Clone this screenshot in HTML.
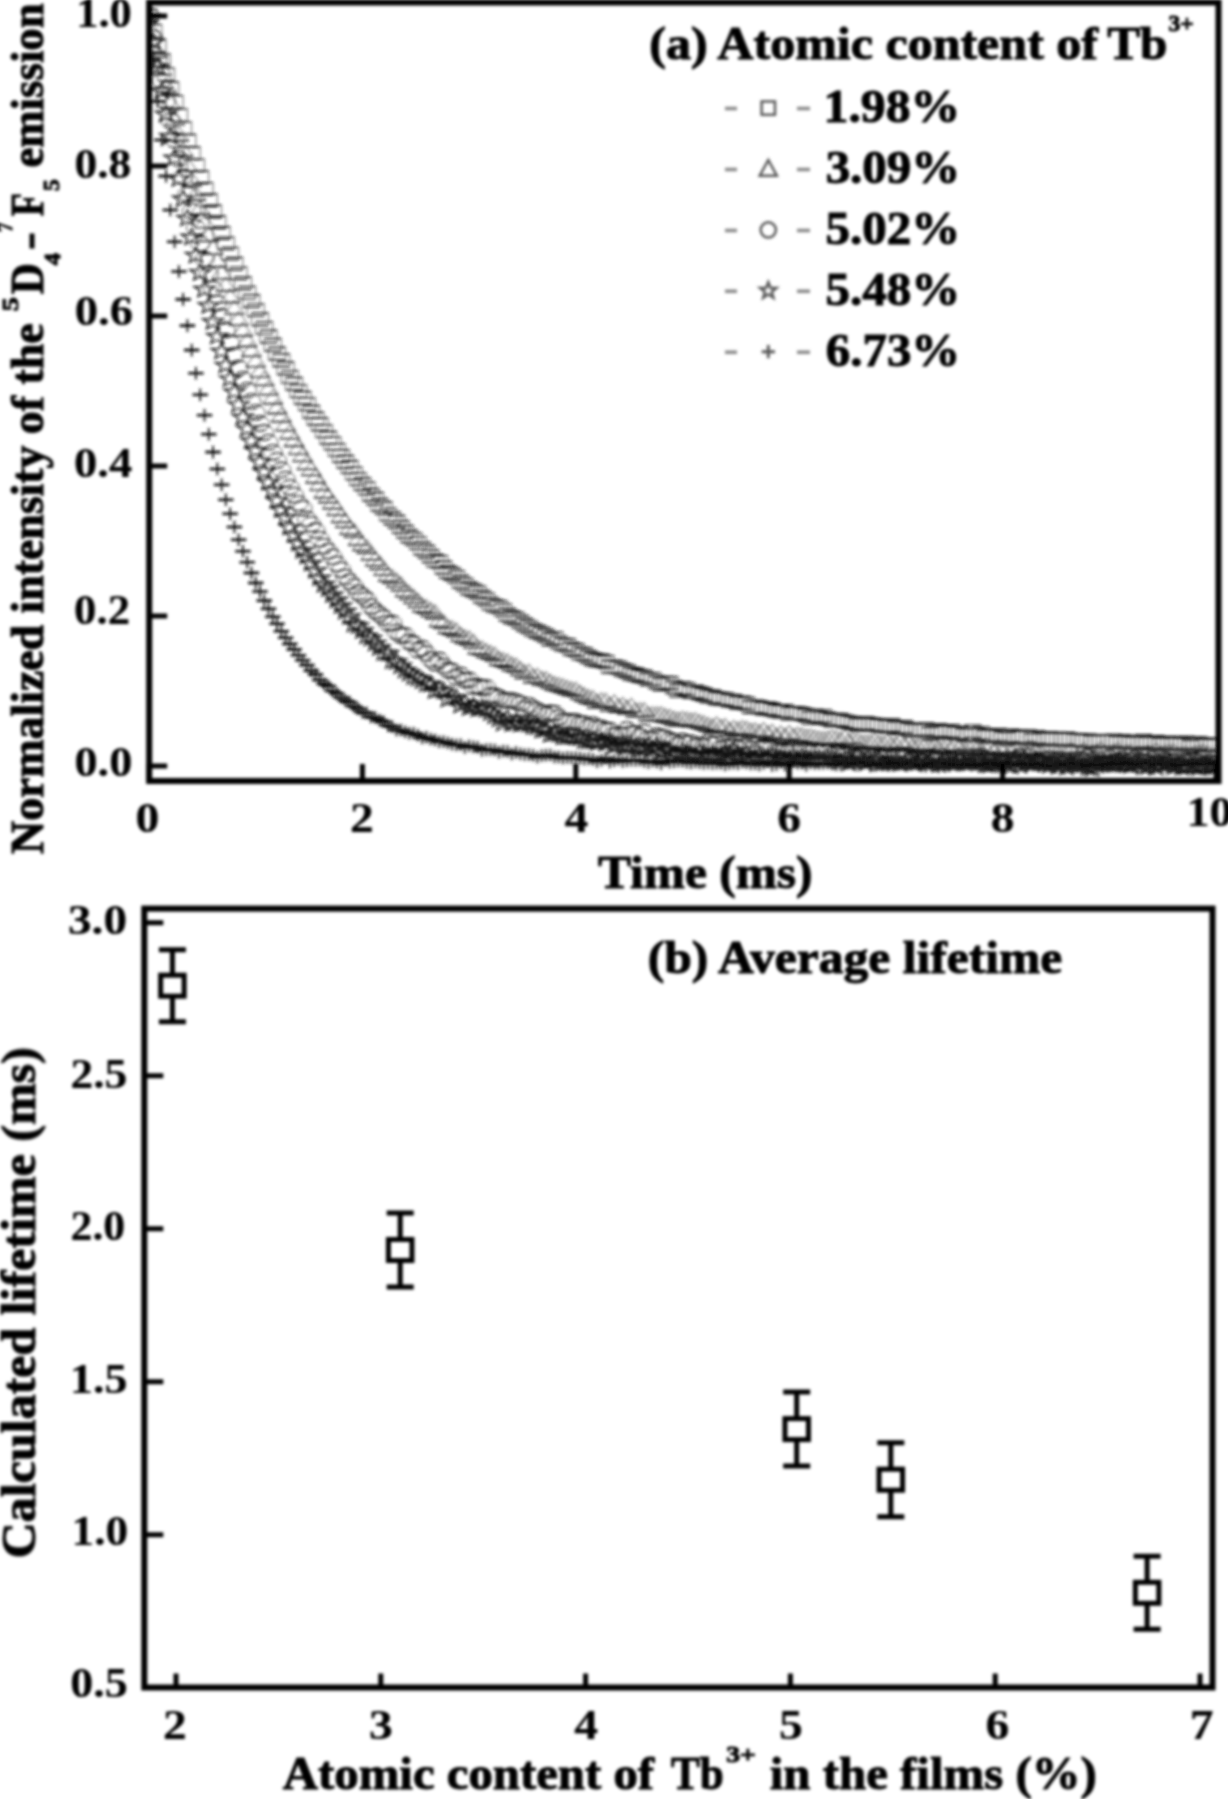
<!DOCTYPE html><html><head><meta charset="utf-8"><style>html,body{margin:0;padding:0;background:#fff;width:1228px;height:1800px;overflow:hidden;}svg{display:block;}</style></head><body><svg width="1228" height="1800" viewBox="0 0 1228 1800">
<defs>
<g id="m_sq"><rect x="-7" y="-7" width="14" height="14"/></g>
<g id="d_sq"><path d="M-8.5,-6.25V6.25 M8.5,-6.25V6.25" stroke="#333" stroke-width="0.8"/><path d="M-8.5,-6.25H8.5 M-8.5,6.25H8.5" stroke="#111" stroke-width="1.4"/></g>
<g id="m_tri"><path d="M0,-9.5 L9,7 L-9,7 Z"/></g>
<g id="d_tri"><path d="M-10,6L0,-8L10,6" stroke="#333" stroke-width="0.85"/><path d="M-10,6H10" stroke="#111" stroke-width="1.4"/></g>
<g id="m_circ"><circle r="8"/></g>
<g id="d_circ"><path d="M6.1,-5.74 A9.5,7.5 0 0 1 6.1,5.74 M-6.1,5.74 A9.5,7.5 0 0 1 -6.1,-5.74" stroke="#333" stroke-width="0.9"/><path d="M-6.1,-5.74 A9.5,7.5 0 0 1 6.1,-5.74 M6.1,5.74 A9.5,7.5 0 0 1 -6.1,5.74" stroke="#111" stroke-width="1.3"/></g>
<g id="m_star"><path d="M0,-9 L2.3,-2.9 L8.6,-2.9 L3.6,1.1 L5.4,7.3 L0,3.7 L-5.4,7.3 L-3.6,1.1 L-8.6,-2.9 L-2.3,-2.9 Z"/></g>
<g id="d_star"><path d="M0,-8.5 L2.8,-2.8 L10.3,-2.8 L4.3,1.0 L6.5,6.9 L0,3.5 L-6.5,6.9 L-4.3,1.0 L-10.3,-2.8 L-2.8,-2.8 Z" stroke="#111" stroke-width="1.4"/></g>
<g id="m_plus"><path d="M-7,0 H7 M0,-7 V7"/></g>
<g id="d_plus"><path d="M0,-6.3V6.3" stroke="#222" stroke-width="2.0"/><path d="M-7.7,0H7.7" stroke="#111" stroke-width="2.6"/></g>
<filter id="bl" x="0" y="0" width="100%" height="100%"><feGaussianBlur stdDeviation="1.5"/></filter>
<clipPath id="cp"><rect x="149.2" y="2.5" width="1069.3" height="778.5"/></clipPath>
</defs>
<rect width="1228" height="1800" fill="#fff"/>
<g filter="url(#bl)">
<g clip-path="url(#cp)">
<g fill="none">
<use href="#d_sq" x="149.0" y="15.7"/>
<use href="#d_sq" x="153.3" y="30.9"/>
<use href="#d_sq" x="157.5" y="45.7"/>
<use href="#d_sq" x="161.8" y="60.3"/>
<use href="#d_sq" x="166.1" y="74.4"/>
<use href="#d_sq" x="170.3" y="88.3"/>
<use href="#d_sq" x="174.6" y="101.9"/>
<use href="#d_sq" x="178.9" y="115.1"/>
<use href="#d_sq" x="183.1" y="128.1"/>
<use href="#d_sq" x="187.4" y="140.8"/>
<use href="#d_sq" x="191.7" y="153.2"/>
<use href="#d_sq" x="195.9" y="165.4"/>
<use href="#d_sq" x="200.2" y="177.3"/>
<use href="#d_sq" x="204.5" y="188.9"/>
<use href="#d_sq" x="208.8" y="200.3"/>
<use href="#d_sq" x="213.0" y="211.5"/>
<use href="#d_sq" x="217.3" y="222.3"/>
<use href="#d_sq" x="221.6" y="233.0"/>
<use href="#d_sq" x="225.8" y="243.4"/>
<use href="#d_sq" x="230.1" y="253.6"/>
<use href="#d_sq" x="234.4" y="263.7"/>
<use href="#d_sq" x="238.6" y="273.4"/>
<use href="#d_sq" x="242.9" y="283.3"/>
<use href="#d_sq" x="247.2" y="292.6"/>
<use href="#d_sq" x="251.4" y="301.0"/>
<use href="#d_sq" x="255.7" y="310.1"/>
<use href="#d_sq" x="260.0" y="319.3"/>
<use href="#d_sq" x="264.2" y="327.9"/>
<use href="#d_sq" x="268.5" y="336.5"/>
<use href="#d_sq" x="272.8" y="344.8"/>
<use href="#d_sq" x="277.0" y="353.5"/>
<use href="#d_sq" x="281.3" y="360.3"/>
<use href="#d_sq" x="285.6" y="368.3"/>
<use href="#d_sq" x="289.8" y="376.9"/>
<use href="#d_sq" x="294.1" y="383.8"/>
<use href="#d_sq" x="298.4" y="391.1"/>
<use href="#d_sq" x="302.6" y="397.7"/>
<use href="#d_sq" x="306.9" y="404.1"/>
<use href="#d_sq" x="311.2" y="411.8"/>
<use href="#d_sq" x="315.5" y="418.5"/>
<use href="#d_sq" x="319.7" y="424.3"/>
<use href="#d_sq" x="324.0" y="431.1"/>
<use href="#d_sq" x="328.3" y="437.7"/>
<use href="#d_sq" x="332.5" y="443.4"/>
<use href="#d_sq" x="336.8" y="449.9"/>
<use href="#d_sq" x="341.1" y="456.0"/>
<use href="#d_sq" x="345.3" y="461.7"/>
<use href="#d_sq" x="349.6" y="467.0"/>
<use href="#d_sq" x="353.9" y="473.4"/>
<use href="#d_sq" x="358.1" y="479.1"/>
<use href="#d_sq" x="362.4" y="484.0"/>
<use href="#d_sq" x="366.7" y="488.4"/>
<use href="#d_sq" x="370.9" y="494.7"/>
<use href="#d_sq" x="375.2" y="498.8"/>
<use href="#d_sq" x="379.5" y="504.8"/>
<use href="#d_sq" x="383.7" y="508.0"/>
<use href="#d_sq" x="388.0" y="514.4"/>
<use href="#d_sq" x="392.3" y="518.3"/>
<use href="#d_sq" x="396.5" y="521.7"/>
<use href="#d_sq" x="400.8" y="527.0"/>
<use href="#d_sq" x="405.1" y="531.7"/>
<use href="#d_sq" x="409.3" y="536.2"/>
<use href="#d_sq" x="413.6" y="539.1"/>
<use href="#d_sq" x="417.9" y="543.1"/>
<use href="#d_sq" x="422.2" y="548.5"/>
<use href="#d_sq" x="426.4" y="551.7"/>
<use href="#d_sq" x="430.7" y="556.3"/>
<use href="#d_sq" x="435.0" y="560.6"/>
<use href="#d_sq" x="439.2" y="561.9"/>
<use href="#d_sq" x="443.5" y="567.5"/>
<use href="#d_sq" x="447.8" y="572.0"/>
<use href="#d_sq" x="452.0" y="574.0"/>
<use href="#d_sq" x="456.3" y="576.9"/>
<use href="#d_sq" x="460.6" y="581.8"/>
<use href="#d_sq" x="464.8" y="584.6"/>
<use href="#d_sq" x="469.1" y="588.5"/>
<use href="#d_sq" x="473.4" y="590.4"/>
<use href="#d_sq" x="477.6" y="592.4"/>
<use href="#d_sq" x="481.9" y="596.8"/>
<use href="#d_sq" x="486.2" y="599.4"/>
<use href="#d_sq" x="490.4" y="603.6"/>
<use href="#d_sq" x="494.7" y="605.9"/>
<use href="#d_sq" x="499.0" y="606.9"/>
<use href="#d_sq" x="503.2" y="610.1"/>
<use href="#d_sq" x="507.5" y="614.8"/>
<use href="#d_sq" x="511.8" y="617.3"/>
<use href="#d_sq" x="516.0" y="618.6"/>
<use href="#d_sq" x="520.3" y="621.7"/>
<use href="#d_sq" x="524.6" y="624.7"/>
<use href="#d_sq" x="528.9" y="627.1"/>
<use href="#d_sq" x="533.1" y="629.9"/>
<use href="#d_sq" x="537.4" y="631.7"/>
<use href="#d_sq" x="541.7" y="633.6"/>
<use href="#d_sq" x="545.9" y="635.7"/>
<use href="#d_sq" x="550.2" y="639.3"/>
<use href="#d_sq" x="554.5" y="638.1"/>
<use href="#d_sq" x="558.7" y="642.4"/>
<use href="#d_sq" x="563.0" y="644.6"/>
<use href="#d_sq" x="567.3" y="645.2"/>
<use href="#d_sq" x="571.5" y="649.0"/>
<use href="#d_sq" x="575.8" y="650.0"/>
<use href="#d_sq" x="580.1" y="653.4"/>
<use href="#d_sq" x="584.3" y="654.3"/>
<use href="#d_sq" x="588.6" y="657.0"/>
<use href="#d_sq" x="592.9" y="659.3"/>
<use href="#d_sq" x="597.1" y="660.3"/>
<use href="#d_sq" x="601.4" y="660.8"/>
<use href="#d_sq" x="605.7" y="661.9"/>
<use href="#d_sq" x="609.9" y="666.8"/>
<use href="#d_sq" x="614.2" y="666.6"/>
<use href="#d_sq" x="618.5" y="667.6"/>
<use href="#d_sq" x="622.7" y="670.0"/>
<use href="#d_sq" x="627.0" y="671.3"/>
<use href="#d_sq" x="631.3" y="673.8"/>
<use href="#d_sq" x="635.6" y="674.5"/>
<use href="#d_sq" x="639.8" y="676.0"/>
<use href="#d_sq" x="644.1" y="676.7"/>
<use href="#d_sq" x="648.4" y="679.3"/>
<use href="#d_sq" x="652.6" y="679.1"/>
<use href="#d_sq" x="656.9" y="682.2"/>
<use href="#d_sq" x="661.2" y="684.4"/>
<use href="#d_sq" x="665.4" y="682.6"/>
<use href="#d_sq" x="669.7" y="683.0"/>
<use href="#d_sq" x="674.0" y="687.3"/>
<use href="#d_sq" x="678.2" y="690.5"/>
<use href="#d_sq" x="682.5" y="688.1"/>
<use href="#d_sq" x="686.8" y="689.1"/>
<use href="#d_sq" x="691.0" y="692.1"/>
<use href="#d_sq" x="695.3" y="691.8"/>
<use href="#d_sq" x="699.6" y="693.2"/>
<use href="#d_sq" x="703.8" y="694.5"/>
<use href="#d_sq" x="708.1" y="696.4"/>
<use href="#d_sq" x="712.4" y="696.5"/>
<use href="#d_sq" x="716.6" y="698.3"/>
<use href="#d_sq" x="720.9" y="698.8"/>
<use href="#d_sq" x="725.2" y="699.1"/>
<use href="#d_sq" x="729.4" y="700.6"/>
<use href="#d_sq" x="733.7" y="701.0"/>
<use href="#d_sq" x="738.0" y="702.8"/>
<use href="#d_sq" x="742.3" y="702.6"/>
<use href="#d_sq" x="746.5" y="703.6"/>
<use href="#d_sq" x="750.8" y="707.0"/>
<use href="#d_sq" x="755.1" y="706.4"/>
<use href="#d_sq" x="759.3" y="707.2"/>
<use href="#d_sq" x="763.6" y="708.6"/>
<use href="#d_sq" x="767.9" y="708.5"/>
<use href="#d_sq" x="772.1" y="709.5"/>
<use href="#d_sq" x="776.4" y="710.9"/>
<use href="#d_sq" x="780.7" y="711.5"/>
<use href="#d_sq" x="784.9" y="710.9"/>
<use href="#d_sq" x="789.2" y="713.6"/>
<use href="#d_sq" x="793.5" y="712.9"/>
<use href="#d_sq" x="797.7" y="713.1"/>
<use href="#d_sq" x="802.0" y="714.0"/>
<use href="#d_sq" x="806.3" y="715.2"/>
<use href="#d_sq" x="810.5" y="717.9"/>
<use href="#d_sq" x="814.8" y="715.7"/>
<use href="#d_sq" x="819.1" y="717.7"/>
<use href="#d_sq" x="823.3" y="716.1"/>
<use href="#d_sq" x="827.6" y="718.8"/>
<use href="#d_sq" x="831.9" y="720.3"/>
<use href="#d_sq" x="836.1" y="719.8"/>
<use href="#d_sq" x="840.4" y="720.0"/>
<use href="#d_sq" x="844.7" y="721.4"/>
<use href="#d_sq" x="849.0" y="722.4"/>
<use href="#d_sq" x="853.2" y="723.0"/>
<use href="#d_sq" x="857.5" y="724.8"/>
<use href="#d_sq" x="861.8" y="723.6"/>
<use href="#d_sq" x="866.0" y="723.3"/>
<use href="#d_sq" x="870.3" y="724.3"/>
<use href="#d_sq" x="874.6" y="724.8"/>
<use href="#d_sq" x="878.8" y="725.5"/>
<use href="#d_sq" x="883.1" y="725.9"/>
<use href="#d_sq" x="887.4" y="726.5"/>
<use href="#d_sq" x="891.6" y="725.2"/>
<use href="#d_sq" x="895.9" y="728.1"/>
<use href="#d_sq" x="900.2" y="727.1"/>
<use href="#d_sq" x="904.4" y="727.0"/>
<use href="#d_sq" x="908.7" y="729.2"/>
<use href="#d_sq" x="913.0" y="730.3"/>
<use href="#d_sq" x="917.2" y="729.9"/>
<use href="#d_sq" x="921.5" y="730.0"/>
<use href="#d_sq" x="925.8" y="729.3"/>
<use href="#d_sq" x="930.0" y="733.5"/>
<use href="#d_sq" x="934.3" y="731.9"/>
<use href="#d_sq" x="938.6" y="730.2"/>
<use href="#d_sq" x="942.8" y="731.0"/>
<use href="#d_sq" x="947.1" y="732.2"/>
<use href="#d_sq" x="951.4" y="730.9"/>
<use href="#d_sq" x="955.7" y="733.0"/>
<use href="#d_sq" x="959.9" y="732.7"/>
<use href="#d_sq" x="964.2" y="734.7"/>
<use href="#d_sq" x="968.5" y="734.8"/>
<use href="#d_sq" x="972.7" y="731.4"/>
<use href="#d_sq" x="977.0" y="734.5"/>
<use href="#d_sq" x="981.3" y="733.1"/>
<use href="#d_sq" x="985.5" y="736.2"/>
<use href="#d_sq" x="989.8" y="735.5"/>
<use href="#d_sq" x="994.1" y="736.2"/>
<use href="#d_sq" x="998.3" y="734.9"/>
<use href="#d_sq" x="1002.6" y="738.0"/>
<use href="#d_sq" x="1006.9" y="738.5"/>
<use href="#d_sq" x="1011.1" y="735.7"/>
<use href="#d_sq" x="1015.4" y="737.4"/>
<use href="#d_sq" x="1019.7" y="736.6"/>
<use href="#d_sq" x="1023.9" y="737.5"/>
<use href="#d_sq" x="1028.2" y="736.5"/>
<use href="#d_sq" x="1032.5" y="739.9"/>
<use href="#d_sq" x="1036.7" y="737.3"/>
<use href="#d_sq" x="1041.0" y="738.2"/>
<use href="#d_sq" x="1045.3" y="739.2"/>
<use href="#d_sq" x="1049.5" y="738.3"/>
<use href="#d_sq" x="1053.8" y="738.9"/>
<use href="#d_sq" x="1058.1" y="738.8"/>
<use href="#d_sq" x="1062.4" y="739.5"/>
<use href="#d_sq" x="1066.6" y="738.7"/>
<use href="#d_sq" x="1070.9" y="739.6"/>
<use href="#d_sq" x="1075.2" y="740.0"/>
<use href="#d_sq" x="1079.4" y="740.1"/>
<use href="#d_sq" x="1083.7" y="740.7"/>
<use href="#d_sq" x="1088.0" y="740.5"/>
<use href="#d_sq" x="1092.2" y="741.8"/>
<use href="#d_sq" x="1096.5" y="740.9"/>
<use href="#d_sq" x="1100.8" y="741.2"/>
<use href="#d_sq" x="1105.0" y="740.9"/>
<use href="#d_sq" x="1109.3" y="741.2"/>
<use href="#d_sq" x="1113.6" y="740.6"/>
<use href="#d_sq" x="1117.8" y="742.6"/>
<use href="#d_sq" x="1122.1" y="741.1"/>
<use href="#d_sq" x="1126.4" y="741.6"/>
<use href="#d_sq" x="1130.6" y="742.9"/>
<use href="#d_sq" x="1134.9" y="743.1"/>
<use href="#d_sq" x="1139.2" y="742.4"/>
<use href="#d_sq" x="1143.4" y="741.0"/>
<use href="#d_sq" x="1147.7" y="743.6"/>
<use href="#d_sq" x="1152.0" y="743.5"/>
<use href="#d_sq" x="1156.2" y="742.0"/>
<use href="#d_sq" x="1160.5" y="744.3"/>
<use href="#d_sq" x="1164.8" y="743.0"/>
<use href="#d_sq" x="1169.1" y="742.7"/>
<use href="#d_sq" x="1173.3" y="744.0"/>
<use href="#d_sq" x="1177.6" y="743.9"/>
<use href="#d_sq" x="1181.9" y="744.4"/>
<use href="#d_sq" x="1186.1" y="742.7"/>
<use href="#d_sq" x="1190.4" y="746.2"/>
<use href="#d_sq" x="1194.7" y="744.0"/>
<use href="#d_sq" x="1198.9" y="743.1"/>
<use href="#d_sq" x="1203.2" y="745.4"/>
<use href="#d_sq" x="1207.5" y="744.5"/>
<use href="#d_sq" x="1211.7" y="745.3"/>
<use href="#d_sq" x="1216.0" y="744.8"/>
</g>
<g fill="none">
<use href="#d_tri" x="149.0" y="14.8"/>
<use href="#d_tri" x="153.3" y="33.3"/>
<use href="#d_tri" x="157.5" y="51.3"/>
<use href="#d_tri" x="161.8" y="68.9"/>
<use href="#d_tri" x="166.1" y="86.0"/>
<use href="#d_tri" x="170.3" y="102.7"/>
<use href="#d_tri" x="174.6" y="118.9"/>
<use href="#d_tri" x="178.9" y="134.8"/>
<use href="#d_tri" x="183.1" y="150.3"/>
<use href="#d_tri" x="187.4" y="165.3"/>
<use href="#d_tri" x="191.7" y="180.0"/>
<use href="#d_tri" x="195.9" y="194.3"/>
<use href="#d_tri" x="200.2" y="208.3"/>
<use href="#d_tri" x="204.5" y="221.9"/>
<use href="#d_tri" x="208.8" y="235.2"/>
<use href="#d_tri" x="213.0" y="248.1"/>
<use href="#d_tri" x="217.3" y="260.7"/>
<use href="#d_tri" x="221.6" y="272.9"/>
<use href="#d_tri" x="225.8" y="285.0"/>
<use href="#d_tri" x="230.1" y="296.5"/>
<use href="#d_tri" x="234.4" y="308.1"/>
<use href="#d_tri" x="238.6" y="319.1"/>
<use href="#d_tri" x="242.9" y="330.0"/>
<use href="#d_tri" x="247.2" y="340.5"/>
<use href="#d_tri" x="251.4" y="350.4"/>
<use href="#d_tri" x="255.7" y="360.9"/>
<use href="#d_tri" x="260.0" y="371.1"/>
<use href="#d_tri" x="264.2" y="379.4"/>
<use href="#d_tri" x="268.5" y="388.6"/>
<use href="#d_tri" x="272.8" y="397.7"/>
<use href="#d_tri" x="277.0" y="407.5"/>
<use href="#d_tri" x="281.3" y="415.7"/>
<use href="#d_tri" x="285.6" y="424.6"/>
<use href="#d_tri" x="289.8" y="432.6"/>
<use href="#d_tri" x="294.1" y="440.3"/>
<use href="#d_tri" x="298.4" y="448.1"/>
<use href="#d_tri" x="302.6" y="455.4"/>
<use href="#d_tri" x="306.9" y="463.4"/>
<use href="#d_tri" x="311.2" y="469.4"/>
<use href="#d_tri" x="315.5" y="476.8"/>
<use href="#d_tri" x="319.7" y="484.1"/>
<use href="#d_tri" x="324.0" y="491.8"/>
<use href="#d_tri" x="328.3" y="496.5"/>
<use href="#d_tri" x="332.5" y="502.6"/>
<use href="#d_tri" x="336.8" y="509.1"/>
<use href="#d_tri" x="341.1" y="516.3"/>
<use href="#d_tri" x="345.3" y="521.2"/>
<use href="#d_tri" x="349.6" y="528.2"/>
<use href="#d_tri" x="353.9" y="531.1"/>
<use href="#d_tri" x="358.1" y="539.1"/>
<use href="#d_tri" x="362.4" y="544.4"/>
<use href="#d_tri" x="366.7" y="547.3"/>
<use href="#d_tri" x="370.9" y="553.8"/>
<use href="#d_tri" x="375.2" y="559.7"/>
<use href="#d_tri" x="379.5" y="563.4"/>
<use href="#d_tri" x="383.7" y="569.0"/>
<use href="#d_tri" x="388.0" y="575.0"/>
<use href="#d_tri" x="392.3" y="577.3"/>
<use href="#d_tri" x="396.5" y="581.0"/>
<use href="#d_tri" x="400.8" y="584.7"/>
<use href="#d_tri" x="405.1" y="590.4"/>
<use href="#d_tri" x="409.3" y="593.4"/>
<use href="#d_tri" x="413.6" y="597.3"/>
<use href="#d_tri" x="417.9" y="601.2"/>
<use href="#d_tri" x="422.2" y="605.8"/>
<use href="#d_tri" x="426.4" y="607.4"/>
<use href="#d_tri" x="430.7" y="610.4"/>
<use href="#d_tri" x="435.0" y="612.7"/>
<use href="#d_tri" x="439.2" y="620.5"/>
<use href="#d_tri" x="443.5" y="622.4"/>
<use href="#d_tri" x="447.8" y="627.3"/>
<use href="#d_tri" x="452.0" y="628.6"/>
<use href="#d_tri" x="456.3" y="630.7"/>
<use href="#d_tri" x="460.6" y="635.2"/>
<use href="#d_tri" x="464.8" y="637.4"/>
<use href="#d_tri" x="469.1" y="638.8"/>
<use href="#d_tri" x="473.4" y="642.0"/>
<use href="#d_tri" x="477.6" y="647.8"/>
<use href="#d_tri" x="481.9" y="648.8"/>
<use href="#d_tri" x="486.2" y="651.4"/>
<use href="#d_tri" x="490.4" y="653.0"/>
<use href="#d_tri" x="494.7" y="654.9"/>
<use href="#d_tri" x="499.0" y="659.2"/>
<use href="#d_tri" x="503.2" y="660.3"/>
<use href="#d_tri" x="507.5" y="661.8"/>
<use href="#d_tri" x="511.8" y="664.7"/>
<use href="#d_tri" x="516.0" y="665.9"/>
<use href="#d_tri" x="520.3" y="669.3"/>
<use href="#d_tri" x="524.6" y="672.5"/>
<use href="#d_tri" x="528.9" y="672.1"/>
<use href="#d_tri" x="533.1" y="676.8"/>
<use href="#d_tri" x="537.4" y="676.1"/>
<use href="#d_tri" x="541.7" y="679.0"/>
<use href="#d_tri" x="545.9" y="679.6"/>
<use href="#d_tri" x="550.2" y="682.0"/>
<use href="#d_tri" x="554.5" y="684.1"/>
<use href="#d_tri" x="558.7" y="685.2"/>
<use href="#d_tri" x="563.0" y="686.5"/>
<use href="#d_tri" x="567.3" y="688.1"/>
<use href="#d_tri" x="571.5" y="689.5"/>
<use href="#d_tri" x="575.8" y="690.1"/>
<use href="#d_tri" x="580.1" y="693.1"/>
<use href="#d_tri" x="584.3" y="695.3"/>
<use href="#d_tri" x="588.6" y="697.3"/>
<use href="#d_tri" x="592.9" y="698.4"/>
<use href="#d_tri" x="597.1" y="701.9"/>
<use href="#d_tri" x="601.4" y="700.6"/>
<use href="#d_tri" x="605.7" y="701.0"/>
<use href="#d_tri" x="609.9" y="705.0"/>
<use href="#d_tri" x="614.2" y="702.7"/>
<use href="#d_tri" x="618.5" y="706.3"/>
<use href="#d_tri" x="622.7" y="705.2"/>
<use href="#d_tri" x="627.0" y="707.9"/>
<use href="#d_tri" x="631.3" y="706.2"/>
<use href="#d_tri" x="635.6" y="710.7"/>
<use href="#d_tri" x="639.8" y="710.4"/>
<use href="#d_tri" x="644.1" y="710.5"/>
<use href="#d_tri" x="648.4" y="714.7"/>
<use href="#d_tri" x="652.6" y="714.5"/>
<use href="#d_tri" x="656.9" y="714.6"/>
<use href="#d_tri" x="661.2" y="714.6"/>
<use href="#d_tri" x="665.4" y="716.3"/>
<use href="#d_tri" x="669.7" y="717.1"/>
<use href="#d_tri" x="674.0" y="719.0"/>
<use href="#d_tri" x="678.2" y="719.9"/>
<use href="#d_tri" x="682.5" y="719.0"/>
<use href="#d_tri" x="686.8" y="719.9"/>
<use href="#d_tri" x="691.0" y="720.7"/>
<use href="#d_tri" x="695.3" y="720.5"/>
<use href="#d_tri" x="699.6" y="722.2"/>
<use href="#d_tri" x="703.8" y="723.5"/>
<use href="#d_tri" x="708.1" y="725.2"/>
<use href="#d_tri" x="712.4" y="726.6"/>
<use href="#d_tri" x="716.6" y="724.7"/>
<use href="#d_tri" x="720.9" y="727.0"/>
<use href="#d_tri" x="725.2" y="726.5"/>
<use href="#d_tri" x="729.4" y="730.1"/>
<use href="#d_tri" x="733.7" y="728.2"/>
<use href="#d_tri" x="738.0" y="729.5"/>
<use href="#d_tri" x="742.3" y="728.3"/>
<use href="#d_tri" x="746.5" y="729.0"/>
<use href="#d_tri" x="750.8" y="730.8"/>
<use href="#d_tri" x="755.1" y="730.7"/>
<use href="#d_tri" x="759.3" y="732.1"/>
<use href="#d_tri" x="763.6" y="730.3"/>
<use href="#d_tri" x="767.9" y="733.5"/>
<use href="#d_tri" x="772.1" y="732.1"/>
<use href="#d_tri" x="776.4" y="735.8"/>
<use href="#d_tri" x="780.7" y="733.8"/>
<use href="#d_tri" x="784.9" y="735.9"/>
<use href="#d_tri" x="789.2" y="733.4"/>
<use href="#d_tri" x="793.5" y="736.0"/>
<use href="#d_tri" x="797.7" y="734.9"/>
<use href="#d_tri" x="802.0" y="735.8"/>
<use href="#d_tri" x="806.3" y="736.8"/>
<use href="#d_tri" x="810.5" y="736.8"/>
<use href="#d_tri" x="814.8" y="737.9"/>
<use href="#d_tri" x="819.1" y="738.9"/>
<use href="#d_tri" x="823.3" y="739.2"/>
<use href="#d_tri" x="827.6" y="738.7"/>
<use href="#d_tri" x="831.9" y="737.5"/>
<use href="#d_tri" x="836.1" y="738.5"/>
<use href="#d_tri" x="840.4" y="739.6"/>
<use href="#d_tri" x="844.7" y="737.6"/>
<use href="#d_tri" x="849.0" y="741.4"/>
<use href="#d_tri" x="853.2" y="740.5"/>
<use href="#d_tri" x="857.5" y="740.9"/>
<use href="#d_tri" x="861.8" y="742.6"/>
<use href="#d_tri" x="866.0" y="742.6"/>
<use href="#d_tri" x="870.3" y="742.3"/>
<use href="#d_tri" x="874.6" y="741.2"/>
<use href="#d_tri" x="878.8" y="743.0"/>
<use href="#d_tri" x="883.1" y="743.4"/>
<use href="#d_tri" x="887.4" y="742.1"/>
<use href="#d_tri" x="891.6" y="744.7"/>
<use href="#d_tri" x="895.9" y="744.4"/>
<use href="#d_tri" x="900.2" y="741.6"/>
<use href="#d_tri" x="904.4" y="744.4"/>
<use href="#d_tri" x="908.7" y="743.0"/>
<use href="#d_tri" x="913.0" y="746.1"/>
<use href="#d_tri" x="917.2" y="746.0"/>
<use href="#d_tri" x="921.5" y="743.9"/>
<use href="#d_tri" x="925.8" y="744.4"/>
<use href="#d_tri" x="930.0" y="745.8"/>
<use href="#d_tri" x="934.3" y="745.6"/>
<use href="#d_tri" x="938.6" y="747.9"/>
<use href="#d_tri" x="942.8" y="747.2"/>
<use href="#d_tri" x="947.1" y="746.2"/>
<use href="#d_tri" x="951.4" y="747.4"/>
<use href="#d_tri" x="955.7" y="744.5"/>
<use href="#d_tri" x="959.9" y="747.5"/>
<use href="#d_tri" x="964.2" y="748.4"/>
<use href="#d_tri" x="968.5" y="747.3"/>
<use href="#d_tri" x="972.7" y="746.8"/>
<use href="#d_tri" x="977.0" y="748.5"/>
<use href="#d_tri" x="981.3" y="750.4"/>
<use href="#d_tri" x="985.5" y="748.5"/>
<use href="#d_tri" x="989.8" y="747.0"/>
<use href="#d_tri" x="994.1" y="750.3"/>
<use href="#d_tri" x="998.3" y="746.5"/>
<use href="#d_tri" x="1002.6" y="749.5"/>
<use href="#d_tri" x="1006.9" y="748.3"/>
<use href="#d_tri" x="1011.1" y="750.3"/>
<use href="#d_tri" x="1015.4" y="748.3"/>
<use href="#d_tri" x="1019.7" y="751.1"/>
<use href="#d_tri" x="1023.9" y="750.0"/>
<use href="#d_tri" x="1028.2" y="747.7"/>
<use href="#d_tri" x="1032.5" y="747.6"/>
<use href="#d_tri" x="1036.7" y="749.7"/>
<use href="#d_tri" x="1041.0" y="751.8"/>
<use href="#d_tri" x="1045.3" y="750.5"/>
<use href="#d_tri" x="1049.5" y="750.6"/>
<use href="#d_tri" x="1053.8" y="750.3"/>
<use href="#d_tri" x="1058.1" y="751.6"/>
<use href="#d_tri" x="1062.4" y="751.3"/>
<use href="#d_tri" x="1066.6" y="751.3"/>
<use href="#d_tri" x="1070.9" y="749.9"/>
<use href="#d_tri" x="1075.2" y="752.7"/>
<use href="#d_tri" x="1079.4" y="753.0"/>
<use href="#d_tri" x="1083.7" y="749.9"/>
<use href="#d_tri" x="1088.0" y="754.4"/>
<use href="#d_tri" x="1092.2" y="752.6"/>
<use href="#d_tri" x="1096.5" y="751.2"/>
<use href="#d_tri" x="1100.8" y="749.7"/>
<use href="#d_tri" x="1105.0" y="752.8"/>
<use href="#d_tri" x="1109.3" y="752.8"/>
<use href="#d_tri" x="1113.6" y="751.5"/>
<use href="#d_tri" x="1117.8" y="750.2"/>
<use href="#d_tri" x="1122.1" y="753.8"/>
<use href="#d_tri" x="1126.4" y="751.9"/>
<use href="#d_tri" x="1130.6" y="752.1"/>
<use href="#d_tri" x="1134.9" y="756.2"/>
<use href="#d_tri" x="1139.2" y="755.4"/>
<use href="#d_tri" x="1143.4" y="754.1"/>
<use href="#d_tri" x="1147.7" y="752.5"/>
<use href="#d_tri" x="1152.0" y="753.9"/>
<use href="#d_tri" x="1156.2" y="750.5"/>
<use href="#d_tri" x="1160.5" y="753.5"/>
<use href="#d_tri" x="1164.8" y="752.5"/>
<use href="#d_tri" x="1169.1" y="752.0"/>
<use href="#d_tri" x="1173.3" y="751.7"/>
<use href="#d_tri" x="1177.6" y="754.3"/>
<use href="#d_tri" x="1181.9" y="753.9"/>
<use href="#d_tri" x="1186.1" y="754.0"/>
<use href="#d_tri" x="1190.4" y="754.9"/>
<use href="#d_tri" x="1194.7" y="753.0"/>
<use href="#d_tri" x="1198.9" y="752.6"/>
<use href="#d_tri" x="1203.2" y="752.0"/>
<use href="#d_tri" x="1207.5" y="753.8"/>
<use href="#d_tri" x="1211.7" y="755.2"/>
<use href="#d_tri" x="1216.0" y="754.2"/>
</g>
<g fill="none">
<use href="#d_circ" x="149.0" y="15.3"/>
<use href="#d_circ" x="153.3" y="37.7"/>
<use href="#d_circ" x="157.5" y="59.5"/>
<use href="#d_circ" x="161.8" y="80.6"/>
<use href="#d_circ" x="166.1" y="101.0"/>
<use href="#d_circ" x="170.3" y="120.8"/>
<use href="#d_circ" x="174.6" y="140.0"/>
<use href="#d_circ" x="178.9" y="158.7"/>
<use href="#d_circ" x="183.1" y="176.7"/>
<use href="#d_circ" x="187.4" y="194.3"/>
<use href="#d_circ" x="191.7" y="211.2"/>
<use href="#d_circ" x="195.9" y="227.7"/>
<use href="#d_circ" x="200.2" y="243.7"/>
<use href="#d_circ" x="204.5" y="259.2"/>
<use href="#d_circ" x="208.8" y="274.1"/>
<use href="#d_circ" x="213.0" y="288.7"/>
<use href="#d_circ" x="217.3" y="302.9"/>
<use href="#d_circ" x="221.6" y="316.5"/>
<use href="#d_circ" x="225.8" y="330.0"/>
<use href="#d_circ" x="230.1" y="342.7"/>
<use href="#d_circ" x="234.4" y="355.2"/>
<use href="#d_circ" x="238.6" y="367.8"/>
<use href="#d_circ" x="242.9" y="379.2"/>
<use href="#d_circ" x="247.2" y="390.2"/>
<use href="#d_circ" x="251.4" y="401.4"/>
<use href="#d_circ" x="255.7" y="412.4"/>
<use href="#d_circ" x="260.0" y="423.5"/>
<use href="#d_circ" x="264.2" y="432.5"/>
<use href="#d_circ" x="268.5" y="442.2"/>
<use href="#d_circ" x="272.8" y="452.4"/>
<use href="#d_circ" x="277.0" y="460.4"/>
<use href="#d_circ" x="281.3" y="469.7"/>
<use href="#d_circ" x="285.6" y="479.1"/>
<use href="#d_circ" x="289.8" y="487.3"/>
<use href="#d_circ" x="294.1" y="495.1"/>
<use href="#d_circ" x="298.4" y="503.4"/>
<use href="#d_circ" x="302.6" y="508.1"/>
<use href="#d_circ" x="306.9" y="518.8"/>
<use href="#d_circ" x="311.2" y="524.2"/>
<use href="#d_circ" x="315.5" y="530.5"/>
<use href="#d_circ" x="319.7" y="539.1"/>
<use href="#d_circ" x="324.0" y="546.1"/>
<use href="#d_circ" x="328.3" y="551.2"/>
<use href="#d_circ" x="332.5" y="556.7"/>
<use href="#d_circ" x="336.8" y="563.9"/>
<use href="#d_circ" x="341.1" y="569.6"/>
<use href="#d_circ" x="345.3" y="576.9"/>
<use href="#d_circ" x="349.6" y="581.6"/>
<use href="#d_circ" x="353.9" y="586.2"/>
<use href="#d_circ" x="358.1" y="592.6"/>
<use href="#d_circ" x="362.4" y="595.8"/>
<use href="#d_circ" x="366.7" y="599.6"/>
<use href="#d_circ" x="370.9" y="606.4"/>
<use href="#d_circ" x="375.2" y="610.9"/>
<use href="#d_circ" x="379.5" y="614.2"/>
<use href="#d_circ" x="383.7" y="617.6"/>
<use href="#d_circ" x="388.0" y="623.3"/>
<use href="#d_circ" x="392.3" y="622.9"/>
<use href="#d_circ" x="396.5" y="631.9"/>
<use href="#d_circ" x="400.8" y="635.4"/>
<use href="#d_circ" x="405.1" y="635.4"/>
<use href="#d_circ" x="409.3" y="641.9"/>
<use href="#d_circ" x="413.6" y="643.5"/>
<use href="#d_circ" x="417.9" y="650.0"/>
<use href="#d_circ" x="422.2" y="648.2"/>
<use href="#d_circ" x="426.4" y="653.3"/>
<use href="#d_circ" x="430.7" y="659.3"/>
<use href="#d_circ" x="435.0" y="663.1"/>
<use href="#d_circ" x="439.2" y="660.0"/>
<use href="#d_circ" x="443.5" y="665.8"/>
<use href="#d_circ" x="447.8" y="670.0"/>
<use href="#d_circ" x="452.0" y="670.9"/>
<use href="#d_circ" x="456.3" y="677.4"/>
<use href="#d_circ" x="460.6" y="674.9"/>
<use href="#d_circ" x="464.8" y="680.0"/>
<use href="#d_circ" x="469.1" y="679.8"/>
<use href="#d_circ" x="473.4" y="686.5"/>
<use href="#d_circ" x="477.6" y="686.1"/>
<use href="#d_circ" x="481.9" y="687.6"/>
<use href="#d_circ" x="486.2" y="687.3"/>
<use href="#d_circ" x="490.4" y="695.4"/>
<use href="#d_circ" x="494.7" y="695.7"/>
<use href="#d_circ" x="499.0" y="697.5"/>
<use href="#d_circ" x="503.2" y="700.1"/>
<use href="#d_circ" x="507.5" y="700.4"/>
<use href="#d_circ" x="511.8" y="700.4"/>
<use href="#d_circ" x="516.0" y="701.7"/>
<use href="#d_circ" x="520.3" y="703.4"/>
<use href="#d_circ" x="524.6" y="708.8"/>
<use href="#d_circ" x="528.9" y="705.3"/>
<use href="#d_circ" x="533.1" y="708.3"/>
<use href="#d_circ" x="537.4" y="710.3"/>
<use href="#d_circ" x="541.7" y="712.6"/>
<use href="#d_circ" x="545.9" y="714.6"/>
<use href="#d_circ" x="550.2" y="712.7"/>
<use href="#d_circ" x="554.5" y="713.1"/>
<use href="#d_circ" x="558.7" y="717.4"/>
<use href="#d_circ" x="563.0" y="720.8"/>
<use href="#d_circ" x="567.3" y="721.2"/>
<use href="#d_circ" x="571.5" y="721.3"/>
<use href="#d_circ" x="575.8" y="721.5"/>
<use href="#d_circ" x="580.1" y="723.6"/>
<use href="#d_circ" x="584.3" y="723.7"/>
<use href="#d_circ" x="588.6" y="726.6"/>
<use href="#d_circ" x="592.9" y="724.7"/>
<use href="#d_circ" x="597.1" y="727.3"/>
<use href="#d_circ" x="601.4" y="727.8"/>
<use href="#d_circ" x="605.7" y="729.9"/>
<use href="#d_circ" x="609.9" y="730.2"/>
<use href="#d_circ" x="614.2" y="735.2"/>
<use href="#d_circ" x="618.5" y="734.2"/>
<use href="#d_circ" x="622.7" y="735.0"/>
<use href="#d_circ" x="627.0" y="729.4"/>
<use href="#d_circ" x="631.3" y="733.2"/>
<use href="#d_circ" x="635.6" y="733.5"/>
<use href="#d_circ" x="639.8" y="736.2"/>
<use href="#d_circ" x="644.1" y="731.9"/>
<use href="#d_circ" x="648.4" y="738.7"/>
<use href="#d_circ" x="652.6" y="739.2"/>
<use href="#d_circ" x="656.9" y="735.6"/>
<use href="#d_circ" x="661.2" y="736.8"/>
<use href="#d_circ" x="665.4" y="737.7"/>
<use href="#d_circ" x="669.7" y="739.8"/>
<use href="#d_circ" x="674.0" y="741.5"/>
<use href="#d_circ" x="678.2" y="744.5"/>
<use href="#d_circ" x="682.5" y="741.0"/>
<use href="#d_circ" x="686.8" y="743.3"/>
<use href="#d_circ" x="691.0" y="742.7"/>
<use href="#d_circ" x="695.3" y="746.1"/>
<use href="#d_circ" x="699.6" y="744.7"/>
<use href="#d_circ" x="703.8" y="746.3"/>
<use href="#d_circ" x="708.1" y="742.4"/>
<use href="#d_circ" x="712.4" y="744.4"/>
<use href="#d_circ" x="716.6" y="743.7"/>
<use href="#d_circ" x="720.9" y="748.3"/>
<use href="#d_circ" x="725.2" y="747.2"/>
<use href="#d_circ" x="729.4" y="745.9"/>
<use href="#d_circ" x="733.7" y="746.0"/>
<use href="#d_circ" x="738.0" y="748.1"/>
<use href="#d_circ" x="742.3" y="746.3"/>
<use href="#d_circ" x="746.5" y="746.3"/>
<use href="#d_circ" x="750.8" y="749.1"/>
<use href="#d_circ" x="755.1" y="753.1"/>
<use href="#d_circ" x="759.3" y="748.5"/>
<use href="#d_circ" x="763.6" y="748.3"/>
<use href="#d_circ" x="767.9" y="747.5"/>
<use href="#d_circ" x="772.1" y="747.5"/>
<use href="#d_circ" x="776.4" y="751.1"/>
<use href="#d_circ" x="780.7" y="752.0"/>
<use href="#d_circ" x="784.9" y="750.8"/>
<use href="#d_circ" x="789.2" y="751.6"/>
<use href="#d_circ" x="793.5" y="751.5"/>
<use href="#d_circ" x="797.7" y="751.8"/>
<use href="#d_circ" x="802.0" y="749.1"/>
<use href="#d_circ" x="806.3" y="751.3"/>
<use href="#d_circ" x="810.5" y="752.5"/>
<use href="#d_circ" x="814.8" y="751.1"/>
<use href="#d_circ" x="819.1" y="751.9"/>
<use href="#d_circ" x="823.3" y="751.5"/>
<use href="#d_circ" x="827.6" y="752.6"/>
<use href="#d_circ" x="831.9" y="755.0"/>
<use href="#d_circ" x="836.1" y="752.9"/>
<use href="#d_circ" x="840.4" y="753.6"/>
<use href="#d_circ" x="844.7" y="755.5"/>
<use href="#d_circ" x="849.0" y="755.4"/>
<use href="#d_circ" x="853.2" y="757.5"/>
<use href="#d_circ" x="857.5" y="750.9"/>
<use href="#d_circ" x="861.8" y="756.4"/>
<use href="#d_circ" x="866.0" y="754.1"/>
<use href="#d_circ" x="870.3" y="755.4"/>
<use href="#d_circ" x="874.6" y="756.9"/>
<use href="#d_circ" x="878.8" y="757.5"/>
<use href="#d_circ" x="883.1" y="757.6"/>
<use href="#d_circ" x="887.4" y="756.1"/>
<use href="#d_circ" x="891.6" y="758.9"/>
<use href="#d_circ" x="895.9" y="755.7"/>
<use href="#d_circ" x="900.2" y="756.1"/>
<use href="#d_circ" x="904.4" y="757.9"/>
<use href="#d_circ" x="908.7" y="755.6"/>
<use href="#d_circ" x="913.0" y="760.6"/>
<use href="#d_circ" x="917.2" y="758.7"/>
<use href="#d_circ" x="921.5" y="760.9"/>
<use href="#d_circ" x="925.8" y="757.1"/>
<use href="#d_circ" x="930.0" y="756.6"/>
<use href="#d_circ" x="934.3" y="757.7"/>
<use href="#d_circ" x="938.6" y="758.9"/>
<use href="#d_circ" x="942.8" y="756.6"/>
<use href="#d_circ" x="947.1" y="758.5"/>
<use href="#d_circ" x="951.4" y="757.9"/>
<use href="#d_circ" x="955.7" y="760.9"/>
<use href="#d_circ" x="959.9" y="756.9"/>
<use href="#d_circ" x="964.2" y="760.1"/>
<use href="#d_circ" x="968.5" y="757.2"/>
<use href="#d_circ" x="972.7" y="756.7"/>
<use href="#d_circ" x="977.0" y="757.3"/>
<use href="#d_circ" x="981.3" y="756.5"/>
<use href="#d_circ" x="985.5" y="759.0"/>
<use href="#d_circ" x="989.8" y="760.7"/>
<use href="#d_circ" x="994.1" y="759.3"/>
<use href="#d_circ" x="998.3" y="760.2"/>
<use href="#d_circ" x="1002.6" y="762.1"/>
<use href="#d_circ" x="1006.9" y="759.7"/>
<use href="#d_circ" x="1011.1" y="759.7"/>
<use href="#d_circ" x="1015.4" y="758.9"/>
<use href="#d_circ" x="1019.7" y="756.6"/>
<use href="#d_circ" x="1023.9" y="761.0"/>
<use href="#d_circ" x="1028.2" y="756.5"/>
<use href="#d_circ" x="1032.5" y="761.0"/>
<use href="#d_circ" x="1036.7" y="759.8"/>
<use href="#d_circ" x="1041.0" y="762.0"/>
<use href="#d_circ" x="1045.3" y="759.9"/>
<use href="#d_circ" x="1049.5" y="758.6"/>
<use href="#d_circ" x="1053.8" y="760.8"/>
<use href="#d_circ" x="1058.1" y="759.3"/>
<use href="#d_circ" x="1062.4" y="760.0"/>
<use href="#d_circ" x="1066.6" y="760.5"/>
<use href="#d_circ" x="1070.9" y="760.3"/>
<use href="#d_circ" x="1075.2" y="760.2"/>
<use href="#d_circ" x="1079.4" y="759.2"/>
<use href="#d_circ" x="1083.7" y="760.4"/>
<use href="#d_circ" x="1088.0" y="756.9"/>
<use href="#d_circ" x="1092.2" y="760.6"/>
<use href="#d_circ" x="1096.5" y="758.8"/>
<use href="#d_circ" x="1100.8" y="763.0"/>
<use href="#d_circ" x="1105.0" y="763.4"/>
<use href="#d_circ" x="1109.3" y="757.6"/>
<use href="#d_circ" x="1113.6" y="761.5"/>
<use href="#d_circ" x="1117.8" y="761.0"/>
<use href="#d_circ" x="1122.1" y="759.5"/>
<use href="#d_circ" x="1126.4" y="762.4"/>
<use href="#d_circ" x="1130.6" y="760.6"/>
<use href="#d_circ" x="1134.9" y="758.4"/>
<use href="#d_circ" x="1139.2" y="761.1"/>
<use href="#d_circ" x="1143.4" y="761.4"/>
<use href="#d_circ" x="1147.7" y="761.9"/>
<use href="#d_circ" x="1152.0" y="759.6"/>
<use href="#d_circ" x="1156.2" y="762.9"/>
<use href="#d_circ" x="1160.5" y="763.2"/>
<use href="#d_circ" x="1164.8" y="759.9"/>
<use href="#d_circ" x="1169.1" y="760.8"/>
<use href="#d_circ" x="1173.3" y="761.9"/>
<use href="#d_circ" x="1177.6" y="761.1"/>
<use href="#d_circ" x="1181.9" y="765.3"/>
<use href="#d_circ" x="1186.1" y="762.6"/>
<use href="#d_circ" x="1190.4" y="760.5"/>
<use href="#d_circ" x="1194.7" y="760.9"/>
<use href="#d_circ" x="1198.9" y="762.3"/>
<use href="#d_circ" x="1203.2" y="766.6"/>
<use href="#d_circ" x="1207.5" y="762.2"/>
<use href="#d_circ" x="1211.7" y="762.8"/>
<use href="#d_circ" x="1216.0" y="763.5"/>
</g>
<g fill="none">
<use href="#d_star" x="149.0" y="16.5"/>
<use href="#d_star" x="153.3" y="42.3"/>
<use href="#d_star" x="157.5" y="67.1"/>
<use href="#d_star" x="161.8" y="91.1"/>
<use href="#d_star" x="166.1" y="114.3"/>
<use href="#d_star" x="170.3" y="136.6"/>
<use href="#d_star" x="174.6" y="158.2"/>
<use href="#d_star" x="178.9" y="179.0"/>
<use href="#d_star" x="183.1" y="199.1"/>
<use href="#d_star" x="187.4" y="218.5"/>
<use href="#d_star" x="191.7" y="237.3"/>
<use href="#d_star" x="195.9" y="255.4"/>
<use href="#d_star" x="200.2" y="272.8"/>
<use href="#d_star" x="204.5" y="289.6"/>
<use href="#d_star" x="208.8" y="305.8"/>
<use href="#d_star" x="213.0" y="321.8"/>
<use href="#d_star" x="217.3" y="336.5"/>
<use href="#d_star" x="221.6" y="351.5"/>
<use href="#d_star" x="225.8" y="365.4"/>
<use href="#d_star" x="230.1" y="378.9"/>
<use href="#d_star" x="234.4" y="392.0"/>
<use href="#d_star" x="238.6" y="404.7"/>
<use href="#d_star" x="242.9" y="417.3"/>
<use href="#d_star" x="247.2" y="428.9"/>
<use href="#d_star" x="251.4" y="441.0"/>
<use href="#d_star" x="255.7" y="450.6"/>
<use href="#d_star" x="260.0" y="462.0"/>
<use href="#d_star" x="264.2" y="471.8"/>
<use href="#d_star" x="268.5" y="482.6"/>
<use href="#d_star" x="272.8" y="490.5"/>
<use href="#d_star" x="277.0" y="500.8"/>
<use href="#d_star" x="281.3" y="510.0"/>
<use href="#d_star" x="285.6" y="517.5"/>
<use href="#d_star" x="289.8" y="527.5"/>
<use href="#d_star" x="294.1" y="535.0"/>
<use href="#d_star" x="298.4" y="543.4"/>
<use href="#d_star" x="302.6" y="550.8"/>
<use href="#d_star" x="306.9" y="556.4"/>
<use href="#d_star" x="311.2" y="563.5"/>
<use href="#d_star" x="315.5" y="570.7"/>
<use href="#d_star" x="319.7" y="578.2"/>
<use href="#d_star" x="324.0" y="584.6"/>
<use href="#d_star" x="328.3" y="589.0"/>
<use href="#d_star" x="332.5" y="594.9"/>
<use href="#d_star" x="336.8" y="600.3"/>
<use href="#d_star" x="341.1" y="606.0"/>
<use href="#d_star" x="345.3" y="611.6"/>
<use href="#d_star" x="349.6" y="616.8"/>
<use href="#d_star" x="353.9" y="624.5"/>
<use href="#d_star" x="358.1" y="625.9"/>
<use href="#d_star" x="362.4" y="630.8"/>
<use href="#d_star" x="366.7" y="636.2"/>
<use href="#d_star" x="370.9" y="638.5"/>
<use href="#d_star" x="375.2" y="643.4"/>
<use href="#d_star" x="379.5" y="647.9"/>
<use href="#d_star" x="383.7" y="652.9"/>
<use href="#d_star" x="388.0" y="653.4"/>
<use href="#d_star" x="392.3" y="661.2"/>
<use href="#d_star" x="396.5" y="661.9"/>
<use href="#d_star" x="400.8" y="666.1"/>
<use href="#d_star" x="405.1" y="670.5"/>
<use href="#d_star" x="409.3" y="673.3"/>
<use href="#d_star" x="413.6" y="677.0"/>
<use href="#d_star" x="417.9" y="678.4"/>
<use href="#d_star" x="422.2" y="680.8"/>
<use href="#d_star" x="426.4" y="684.1"/>
<use href="#d_star" x="430.7" y="684.4"/>
<use href="#d_star" x="435.0" y="690.9"/>
<use href="#d_star" x="439.2" y="689.7"/>
<use href="#d_star" x="443.5" y="691.2"/>
<use href="#d_star" x="447.8" y="699.5"/>
<use href="#d_star" x="452.0" y="697.7"/>
<use href="#d_star" x="456.3" y="698.0"/>
<use href="#d_star" x="460.6" y="705.5"/>
<use href="#d_star" x="464.8" y="703.5"/>
<use href="#d_star" x="469.1" y="707.9"/>
<use href="#d_star" x="473.4" y="706.4"/>
<use href="#d_star" x="477.6" y="709.2"/>
<use href="#d_star" x="481.9" y="708.3"/>
<use href="#d_star" x="486.2" y="709.6"/>
<use href="#d_star" x="490.4" y="712.9"/>
<use href="#d_star" x="494.7" y="716.1"/>
<use href="#d_star" x="499.0" y="719.2"/>
<use href="#d_star" x="503.2" y="723.5"/>
<use href="#d_star" x="507.5" y="718.7"/>
<use href="#d_star" x="511.8" y="723.8"/>
<use href="#d_star" x="516.0" y="722.2"/>
<use href="#d_star" x="520.3" y="724.3"/>
<use href="#d_star" x="524.6" y="723.1"/>
<use href="#d_star" x="528.9" y="724.3"/>
<use href="#d_star" x="533.1" y="726.7"/>
<use href="#d_star" x="537.4" y="727.1"/>
<use href="#d_star" x="541.7" y="730.3"/>
<use href="#d_star" x="545.9" y="730.0"/>
<use href="#d_star" x="550.2" y="734.6"/>
<use href="#d_star" x="554.5" y="733.6"/>
<use href="#d_star" x="558.7" y="734.5"/>
<use href="#d_star" x="563.0" y="737.2"/>
<use href="#d_star" x="567.3" y="736.9"/>
<use href="#d_star" x="571.5" y="736.8"/>
<use href="#d_star" x="575.8" y="737.5"/>
<use href="#d_star" x="580.1" y="738.2"/>
<use href="#d_star" x="584.3" y="741.2"/>
<use href="#d_star" x="588.6" y="741.4"/>
<use href="#d_star" x="592.9" y="741.3"/>
<use href="#d_star" x="597.1" y="742.8"/>
<use href="#d_star" x="601.4" y="741.1"/>
<use href="#d_star" x="605.7" y="743.6"/>
<use href="#d_star" x="609.9" y="740.8"/>
<use href="#d_star" x="614.2" y="746.4"/>
<use href="#d_star" x="618.5" y="744.7"/>
<use href="#d_star" x="622.7" y="745.4"/>
<use href="#d_star" x="627.0" y="746.8"/>
<use href="#d_star" x="631.3" y="746.2"/>
<use href="#d_star" x="635.6" y="746.3"/>
<use href="#d_star" x="639.8" y="749.4"/>
<use href="#d_star" x="644.1" y="747.9"/>
<use href="#d_star" x="648.4" y="746.5"/>
<use href="#d_star" x="652.6" y="749.4"/>
<use href="#d_star" x="656.9" y="746.0"/>
<use href="#d_star" x="661.2" y="752.5"/>
<use href="#d_star" x="665.4" y="749.6"/>
<use href="#d_star" x="669.7" y="750.4"/>
<use href="#d_star" x="674.0" y="754.8"/>
<use href="#d_star" x="678.2" y="755.0"/>
<use href="#d_star" x="682.5" y="751.7"/>
<use href="#d_star" x="686.8" y="753.0"/>
<use href="#d_star" x="691.0" y="754.2"/>
<use href="#d_star" x="695.3" y="755.6"/>
<use href="#d_star" x="699.6" y="752.6"/>
<use href="#d_star" x="703.8" y="753.4"/>
<use href="#d_star" x="708.1" y="755.7"/>
<use href="#d_star" x="712.4" y="754.3"/>
<use href="#d_star" x="716.6" y="755.4"/>
<use href="#d_star" x="720.9" y="755.5"/>
<use href="#d_star" x="725.2" y="752.6"/>
<use href="#d_star" x="729.4" y="753.4"/>
<use href="#d_star" x="733.7" y="750.4"/>
<use href="#d_star" x="738.0" y="754.9"/>
<use href="#d_star" x="742.3" y="758.1"/>
<use href="#d_star" x="746.5" y="753.9"/>
<use href="#d_star" x="750.8" y="758.3"/>
<use href="#d_star" x="755.1" y="758.1"/>
<use href="#d_star" x="759.3" y="756.5"/>
<use href="#d_star" x="763.6" y="756.8"/>
<use href="#d_star" x="767.9" y="757.1"/>
<use href="#d_star" x="772.1" y="755.6"/>
<use href="#d_star" x="776.4" y="756.9"/>
<use href="#d_star" x="780.7" y="757.5"/>
<use href="#d_star" x="784.9" y="758.9"/>
<use href="#d_star" x="789.2" y="759.4"/>
<use href="#d_star" x="793.5" y="756.8"/>
<use href="#d_star" x="797.7" y="759.8"/>
<use href="#d_star" x="802.0" y="757.1"/>
<use href="#d_star" x="806.3" y="758.3"/>
<use href="#d_star" x="810.5" y="759.4"/>
<use href="#d_star" x="814.8" y="758.9"/>
<use href="#d_star" x="819.1" y="758.9"/>
<use href="#d_star" x="823.3" y="759.7"/>
<use href="#d_star" x="827.6" y="758.4"/>
<use href="#d_star" x="831.9" y="758.3"/>
<use href="#d_star" x="836.1" y="759.3"/>
<use href="#d_star" x="840.4" y="761.5"/>
<use href="#d_star" x="844.7" y="759.7"/>
<use href="#d_star" x="849.0" y="763.5"/>
<use href="#d_star" x="853.2" y="760.6"/>
<use href="#d_star" x="857.5" y="754.9"/>
<use href="#d_star" x="861.8" y="759.6"/>
<use href="#d_star" x="866.0" y="763.5"/>
<use href="#d_star" x="870.3" y="760.7"/>
<use href="#d_star" x="874.6" y="760.0"/>
<use href="#d_star" x="878.8" y="759.3"/>
<use href="#d_star" x="883.1" y="763.4"/>
<use href="#d_star" x="887.4" y="762.9"/>
<use href="#d_star" x="891.6" y="762.4"/>
<use href="#d_star" x="895.9" y="762.1"/>
<use href="#d_star" x="900.2" y="764.0"/>
<use href="#d_star" x="904.4" y="763.0"/>
<use href="#d_star" x="908.7" y="759.4"/>
<use href="#d_star" x="913.0" y="763.1"/>
<use href="#d_star" x="917.2" y="762.1"/>
<use href="#d_star" x="921.5" y="761.7"/>
<use href="#d_star" x="925.8" y="763.3"/>
<use href="#d_star" x="930.0" y="762.1"/>
<use href="#d_star" x="934.3" y="756.9"/>
<use href="#d_star" x="938.6" y="765.0"/>
<use href="#d_star" x="942.8" y="764.2"/>
<use href="#d_star" x="947.1" y="762.2"/>
<use href="#d_star" x="951.4" y="761.8"/>
<use href="#d_star" x="955.7" y="763.0"/>
<use href="#d_star" x="959.9" y="760.3"/>
<use href="#d_star" x="964.2" y="763.3"/>
<use href="#d_star" x="968.5" y="762.4"/>
<use href="#d_star" x="972.7" y="762.2"/>
<use href="#d_star" x="977.0" y="761.3"/>
<use href="#d_star" x="981.3" y="761.8"/>
<use href="#d_star" x="985.5" y="765.1"/>
<use href="#d_star" x="989.8" y="765.5"/>
<use href="#d_star" x="994.1" y="764.1"/>
<use href="#d_star" x="998.3" y="763.2"/>
<use href="#d_star" x="1002.6" y="761.8"/>
<use href="#d_star" x="1006.9" y="764.7"/>
<use href="#d_star" x="1011.1" y="766.4"/>
<use href="#d_star" x="1015.4" y="760.6"/>
<use href="#d_star" x="1019.7" y="765.7"/>
<use href="#d_star" x="1023.9" y="759.8"/>
<use href="#d_star" x="1028.2" y="763.1"/>
<use href="#d_star" x="1032.5" y="764.5"/>
<use href="#d_star" x="1036.7" y="761.4"/>
<use href="#d_star" x="1041.0" y="761.2"/>
<use href="#d_star" x="1045.3" y="764.3"/>
<use href="#d_star" x="1049.5" y="765.6"/>
<use href="#d_star" x="1053.8" y="763.2"/>
<use href="#d_star" x="1058.1" y="766.6"/>
<use href="#d_star" x="1062.4" y="762.8"/>
<use href="#d_star" x="1066.6" y="767.4"/>
<use href="#d_star" x="1070.9" y="764.5"/>
<use href="#d_star" x="1075.2" y="764.8"/>
<use href="#d_star" x="1079.4" y="765.5"/>
<use href="#d_star" x="1083.7" y="765.1"/>
<use href="#d_star" x="1088.0" y="767.9"/>
<use href="#d_star" x="1092.2" y="768.6"/>
<use href="#d_star" x="1096.5" y="765.6"/>
<use href="#d_star" x="1100.8" y="764.4"/>
<use href="#d_star" x="1105.0" y="762.6"/>
<use href="#d_star" x="1109.3" y="763.5"/>
<use href="#d_star" x="1113.6" y="764.9"/>
<use href="#d_star" x="1117.8" y="764.7"/>
<use href="#d_star" x="1122.1" y="764.9"/>
<use href="#d_star" x="1126.4" y="765.0"/>
<use href="#d_star" x="1130.6" y="766.0"/>
<use href="#d_star" x="1134.9" y="762.7"/>
<use href="#d_star" x="1139.2" y="763.3"/>
<use href="#d_star" x="1143.4" y="767.2"/>
<use href="#d_star" x="1147.7" y="766.8"/>
<use href="#d_star" x="1152.0" y="764.3"/>
<use href="#d_star" x="1156.2" y="767.7"/>
<use href="#d_star" x="1160.5" y="764.2"/>
<use href="#d_star" x="1164.8" y="765.0"/>
<use href="#d_star" x="1169.1" y="762.2"/>
<use href="#d_star" x="1173.3" y="767.1"/>
<use href="#d_star" x="1177.6" y="765.6"/>
<use href="#d_star" x="1181.9" y="767.6"/>
<use href="#d_star" x="1186.1" y="767.0"/>
<use href="#d_star" x="1190.4" y="765.9"/>
<use href="#d_star" x="1194.7" y="766.1"/>
<use href="#d_star" x="1198.9" y="768.0"/>
<use href="#d_star" x="1203.2" y="765.6"/>
<use href="#d_star" x="1207.5" y="765.7"/>
<use href="#d_star" x="1211.7" y="766.1"/>
<use href="#d_star" x="1216.0" y="767.5"/>
</g>
<g fill="none">
<use href="#d_plus" x="149.0" y="16.0"/>
<use href="#d_plus" x="153.3" y="60.1"/>
<use href="#d_plus" x="157.5" y="101.4"/>
<use href="#d_plus" x="161.8" y="140.0"/>
<use href="#d_plus" x="166.1" y="176.1"/>
<use href="#d_plus" x="170.3" y="210.0"/>
<use href="#d_plus" x="174.6" y="241.8"/>
<use href="#d_plus" x="178.9" y="271.5"/>
<use href="#d_plus" x="183.1" y="299.4"/>
<use href="#d_plus" x="187.4" y="325.6"/>
<use href="#d_plus" x="191.7" y="350.1"/>
<use href="#d_plus" x="195.9" y="373.2"/>
<use href="#d_plus" x="200.2" y="394.8"/>
<use href="#d_plus" x="204.5" y="415.2"/>
<use href="#d_plus" x="208.8" y="434.2"/>
<use href="#d_plus" x="213.0" y="452.1"/>
<use href="#d_plus" x="217.3" y="469.0"/>
<use href="#d_plus" x="221.6" y="484.8"/>
<use href="#d_plus" x="225.8" y="499.8"/>
<use href="#d_plus" x="230.1" y="513.8"/>
<use href="#d_plus" x="234.4" y="527.0"/>
<use href="#d_plus" x="238.6" y="539.7"/>
<use href="#d_plus" x="242.9" y="551.3"/>
<use href="#d_plus" x="247.2" y="562.3"/>
<use href="#d_plus" x="251.4" y="572.9"/>
<use href="#d_plus" x="255.7" y="582.9"/>
<use href="#d_plus" x="260.0" y="591.5"/>
<use href="#d_plus" x="264.2" y="600.6"/>
<use href="#d_plus" x="268.5" y="608.7"/>
<use href="#d_plus" x="272.8" y="616.7"/>
<use href="#d_plus" x="277.0" y="623.7"/>
<use href="#d_plus" x="281.3" y="631.2"/>
<use href="#d_plus" x="285.6" y="637.7"/>
<use href="#d_plus" x="289.8" y="643.9"/>
<use href="#d_plus" x="294.1" y="649.4"/>
<use href="#d_plus" x="298.4" y="655.3"/>
<use href="#d_plus" x="302.6" y="660.3"/>
<use href="#d_plus" x="306.9" y="665.1"/>
<use href="#d_plus" x="311.2" y="670.6"/>
<use href="#d_plus" x="315.5" y="674.4"/>
<use href="#d_plus" x="319.7" y="679.9"/>
<use href="#d_plus" x="324.0" y="683.7"/>
<use href="#d_plus" x="328.3" y="686.0"/>
<use href="#d_plus" x="332.5" y="690.9"/>
<use href="#d_plus" x="336.8" y="693.5"/>
<use href="#d_plus" x="341.1" y="697.5"/>
<use href="#d_plus" x="345.3" y="700.6"/>
<use href="#d_plus" x="349.6" y="702.2"/>
<use href="#d_plus" x="353.9" y="706.2"/>
<use href="#d_plus" x="358.1" y="708.8"/>
<use href="#d_plus" x="362.4" y="712.3"/>
<use href="#d_plus" x="366.7" y="713.1"/>
<use href="#d_plus" x="370.9" y="716.9"/>
<use href="#d_plus" x="375.2" y="717.6"/>
<use href="#d_plus" x="379.5" y="720.2"/>
<use href="#d_plus" x="383.7" y="721.8"/>
<use href="#d_plus" x="388.0" y="725.6"/>
<use href="#d_plus" x="392.3" y="726.7"/>
<use href="#d_plus" x="396.5" y="730.1"/>
<use href="#d_plus" x="400.8" y="730.1"/>
<use href="#d_plus" x="405.1" y="731.8"/>
<use href="#d_plus" x="409.3" y="733.3"/>
<use href="#d_plus" x="413.6" y="733.3"/>
<use href="#d_plus" x="417.9" y="735.2"/>
<use href="#d_plus" x="422.2" y="737.9"/>
<use href="#d_plus" x="426.4" y="737.3"/>
<use href="#d_plus" x="430.7" y="739.1"/>
<use href="#d_plus" x="435.0" y="740.0"/>
<use href="#d_plus" x="439.2" y="741.7"/>
<use href="#d_plus" x="443.5" y="741.7"/>
<use href="#d_plus" x="447.8" y="742.9"/>
<use href="#d_plus" x="452.0" y="744.2"/>
<use href="#d_plus" x="456.3" y="744.9"/>
<use href="#d_plus" x="460.6" y="744.8"/>
<use href="#d_plus" x="464.8" y="747.4"/>
<use href="#d_plus" x="469.1" y="745.9"/>
<use href="#d_plus" x="473.4" y="746.8"/>
<use href="#d_plus" x="477.6" y="747.4"/>
<use href="#d_plus" x="481.9" y="750.3"/>
<use href="#d_plus" x="486.2" y="749.6"/>
<use href="#d_plus" x="490.4" y="749.6"/>
<use href="#d_plus" x="494.7" y="750.0"/>
<use href="#d_plus" x="499.0" y="752.1"/>
<use href="#d_plus" x="503.2" y="751.2"/>
<use href="#d_plus" x="507.5" y="751.5"/>
<use href="#d_plus" x="511.8" y="753.9"/>
<use href="#d_plus" x="516.0" y="752.5"/>
<use href="#d_plus" x="520.3" y="753.8"/>
<use href="#d_plus" x="524.6" y="754.6"/>
<use href="#d_plus" x="528.9" y="754.6"/>
<use href="#d_plus" x="533.1" y="755.3"/>
<use href="#d_plus" x="537.4" y="757.1"/>
<use href="#d_plus" x="541.7" y="755.6"/>
<use href="#d_plus" x="545.9" y="755.2"/>
<use href="#d_plus" x="550.2" y="755.0"/>
<use href="#d_plus" x="554.5" y="756.9"/>
<use href="#d_plus" x="558.7" y="757.1"/>
<use href="#d_plus" x="563.0" y="758.0"/>
<use href="#d_plus" x="567.3" y="757.5"/>
<use href="#d_plus" x="571.5" y="757.8"/>
<use href="#d_plus" x="575.8" y="757.8"/>
<use href="#d_plus" x="580.1" y="758.2"/>
<use href="#d_plus" x="584.3" y="759.1"/>
<use href="#d_plus" x="588.6" y="758.8"/>
<use href="#d_plus" x="592.9" y="759.5"/>
<use href="#d_plus" x="597.1" y="761.5"/>
<use href="#d_plus" x="601.4" y="760.3"/>
<use href="#d_plus" x="605.7" y="758.4"/>
<use href="#d_plus" x="609.9" y="761.9"/>
<use href="#d_plus" x="614.2" y="760.7"/>
<use href="#d_plus" x="618.5" y="759.5"/>
<use href="#d_plus" x="622.7" y="761.5"/>
<use href="#d_plus" x="627.0" y="760.8"/>
<use href="#d_plus" x="631.3" y="760.3"/>
<use href="#d_plus" x="635.6" y="760.4"/>
<use href="#d_plus" x="639.8" y="760.2"/>
<use href="#d_plus" x="644.1" y="761.4"/>
<use href="#d_plus" x="648.4" y="762.5"/>
<use href="#d_plus" x="652.6" y="761.2"/>
<use href="#d_plus" x="656.9" y="762.1"/>
<use href="#d_plus" x="661.2" y="763.7"/>
<use href="#d_plus" x="665.4" y="760.7"/>
<use href="#d_plus" x="669.7" y="762.2"/>
<use href="#d_plus" x="674.0" y="761.8"/>
<use href="#d_plus" x="678.2" y="761.1"/>
<use href="#d_plus" x="682.5" y="761.2"/>
<use href="#d_plus" x="686.8" y="762.3"/>
<use href="#d_plus" x="691.0" y="762.9"/>
<use href="#d_plus" x="695.3" y="762.0"/>
<use href="#d_plus" x="699.6" y="762.6"/>
<use href="#d_plus" x="703.8" y="763.4"/>
<use href="#d_plus" x="708.1" y="763.0"/>
<use href="#d_plus" x="712.4" y="763.6"/>
<use href="#d_plus" x="716.6" y="763.3"/>
<use href="#d_plus" x="720.9" y="763.4"/>
<use href="#d_plus" x="725.2" y="764.8"/>
<use href="#d_plus" x="729.4" y="763.6"/>
<use href="#d_plus" x="733.7" y="763.2"/>
<use href="#d_plus" x="738.0" y="763.8"/>
<use href="#d_plus" x="742.3" y="762.2"/>
<use href="#d_plus" x="746.5" y="762.9"/>
<use href="#d_plus" x="750.8" y="764.0"/>
<use href="#d_plus" x="755.1" y="763.9"/>
<use href="#d_plus" x="759.3" y="764.9"/>
<use href="#d_plus" x="763.6" y="763.4"/>
<use href="#d_plus" x="767.9" y="761.9"/>
<use href="#d_plus" x="772.1" y="765.4"/>
<use href="#d_plus" x="776.4" y="764.6"/>
<use href="#d_plus" x="780.7" y="762.4"/>
<use href="#d_plus" x="784.9" y="764.9"/>
<use href="#d_plus" x="789.2" y="763.6"/>
<use href="#d_plus" x="793.5" y="761.8"/>
<use href="#d_plus" x="797.7" y="763.2"/>
<use href="#d_plus" x="802.0" y="763.1"/>
<use href="#d_plus" x="806.3" y="765.3"/>
<use href="#d_plus" x="810.5" y="762.9"/>
<use href="#d_plus" x="814.8" y="763.5"/>
<use href="#d_plus" x="819.1" y="763.5"/>
<use href="#d_plus" x="823.3" y="763.4"/>
<use href="#d_plus" x="827.6" y="762.9"/>
<use href="#d_plus" x="831.9" y="764.0"/>
<use href="#d_plus" x="836.1" y="764.9"/>
<use href="#d_plus" x="840.4" y="764.5"/>
<use href="#d_plus" x="844.7" y="762.9"/>
<use href="#d_plus" x="849.0" y="762.7"/>
<use href="#d_plus" x="853.2" y="764.0"/>
<use href="#d_plus" x="857.5" y="763.2"/>
<use href="#d_plus" x="861.8" y="763.3"/>
<use href="#d_plus" x="866.0" y="762.3"/>
<use href="#d_plus" x="870.3" y="765.9"/>
<use href="#d_plus" x="874.6" y="764.9"/>
<use href="#d_plus" x="878.8" y="763.0"/>
<use href="#d_plus" x="883.1" y="764.9"/>
<use href="#d_plus" x="887.4" y="765.3"/>
<use href="#d_plus" x="891.6" y="761.6"/>
<use href="#d_plus" x="895.9" y="763.5"/>
<use href="#d_plus" x="900.2" y="763.6"/>
<use href="#d_plus" x="904.4" y="764.7"/>
<use href="#d_plus" x="908.7" y="763.9"/>
<use href="#d_plus" x="913.0" y="763.8"/>
<use href="#d_plus" x="917.2" y="764.0"/>
<use href="#d_plus" x="921.5" y="765.9"/>
<use href="#d_plus" x="925.8" y="766.2"/>
<use href="#d_plus" x="930.0" y="763.6"/>
<use href="#d_plus" x="934.3" y="763.2"/>
<use href="#d_plus" x="938.6" y="766.8"/>
<use href="#d_plus" x="942.8" y="763.1"/>
<use href="#d_plus" x="947.1" y="763.6"/>
<use href="#d_plus" x="951.4" y="764.2"/>
<use href="#d_plus" x="955.7" y="764.6"/>
<use href="#d_plus" x="959.9" y="765.2"/>
<use href="#d_plus" x="964.2" y="764.5"/>
<use href="#d_plus" x="968.5" y="763.3"/>
<use href="#d_plus" x="972.7" y="764.7"/>
<use href="#d_plus" x="977.0" y="764.4"/>
<use href="#d_plus" x="981.3" y="766.0"/>
<use href="#d_plus" x="985.5" y="764.2"/>
<use href="#d_plus" x="989.8" y="762.8"/>
<use href="#d_plus" x="994.1" y="763.1"/>
<use href="#d_plus" x="998.3" y="765.6"/>
<use href="#d_plus" x="1002.6" y="763.6"/>
<use href="#d_plus" x="1006.9" y="762.1"/>
<use href="#d_plus" x="1011.1" y="763.6"/>
<use href="#d_plus" x="1015.4" y="764.2"/>
<use href="#d_plus" x="1019.7" y="765.4"/>
<use href="#d_plus" x="1023.9" y="763.2"/>
<use href="#d_plus" x="1028.2" y="764.9"/>
<use href="#d_plus" x="1032.5" y="765.0"/>
<use href="#d_plus" x="1036.7" y="763.5"/>
<use href="#d_plus" x="1041.0" y="764.0"/>
<use href="#d_plus" x="1045.3" y="766.0"/>
<use href="#d_plus" x="1049.5" y="765.9"/>
<use href="#d_plus" x="1053.8" y="765.1"/>
<use href="#d_plus" x="1058.1" y="764.6"/>
<use href="#d_plus" x="1062.4" y="765.4"/>
<use href="#d_plus" x="1066.6" y="764.1"/>
<use href="#d_plus" x="1070.9" y="764.1"/>
<use href="#d_plus" x="1075.2" y="763.4"/>
<use href="#d_plus" x="1079.4" y="764.2"/>
<use href="#d_plus" x="1083.7" y="764.2"/>
<use href="#d_plus" x="1088.0" y="767.0"/>
<use href="#d_plus" x="1092.2" y="764.0"/>
<use href="#d_plus" x="1096.5" y="765.5"/>
<use href="#d_plus" x="1100.8" y="765.6"/>
<use href="#d_plus" x="1105.0" y="764.1"/>
<use href="#d_plus" x="1109.3" y="765.4"/>
<use href="#d_plus" x="1113.6" y="762.1"/>
<use href="#d_plus" x="1117.8" y="764.3"/>
<use href="#d_plus" x="1122.1" y="765.1"/>
<use href="#d_plus" x="1126.4" y="761.9"/>
<use href="#d_plus" x="1130.6" y="763.1"/>
<use href="#d_plus" x="1134.9" y="765.3"/>
<use href="#d_plus" x="1139.2" y="764.0"/>
<use href="#d_plus" x="1143.4" y="763.2"/>
<use href="#d_plus" x="1147.7" y="763.9"/>
<use href="#d_plus" x="1152.0" y="763.7"/>
<use href="#d_plus" x="1156.2" y="765.0"/>
<use href="#d_plus" x="1160.5" y="764.7"/>
<use href="#d_plus" x="1164.8" y="764.0"/>
<use href="#d_plus" x="1169.1" y="763.6"/>
<use href="#d_plus" x="1173.3" y="764.2"/>
<use href="#d_plus" x="1177.6" y="765.6"/>
<use href="#d_plus" x="1181.9" y="764.6"/>
<use href="#d_plus" x="1186.1" y="764.9"/>
<use href="#d_plus" x="1190.4" y="764.1"/>
<use href="#d_plus" x="1194.7" y="763.0"/>
<use href="#d_plus" x="1198.9" y="763.6"/>
<use href="#d_plus" x="1203.2" y="764.9"/>
<use href="#d_plus" x="1207.5" y="764.4"/>
<use href="#d_plus" x="1211.7" y="763.4"/>
<use href="#d_plus" x="1216.0" y="762.6"/>
</g>
</g>
<rect x="149.2" y="2.5" width="1069.3" height="778.5" fill="none" stroke="#000" stroke-width="6"/>
<path d="M149.2,766.0H167.2 M149.2,616.0H167.2 M149.2,466.0H167.2 M149.2,316.0H167.2 M149.2,166.0H167.2 M149.2,16.0H167.2 M149.0,781V764 M362.4,781V764 M575.8,781V764 M789.2,781V764 M1002.6,781V764 M1216.0,781V764" stroke="#000" stroke-width="5" fill="none"/>
<text x="76.24" y="26.80" font-family="Liberation Serif" font-weight="bold" stroke="#000" stroke-width="0.2" font-size="42.5" textLength="55.63" lengthAdjust="spacingAndGlyphs">1.0</text>
<text x="74.49" y="177.80" font-family="Liberation Serif" font-weight="bold" stroke="#000" stroke-width="0.2" font-size="42.5" textLength="56.89" lengthAdjust="spacingAndGlyphs">0.8</text>
<text x="74.75" y="325.30" font-family="Liberation Serif" font-weight="bold" stroke="#000" stroke-width="0.2" font-size="42.5" textLength="58.25" lengthAdjust="spacingAndGlyphs">0.6</text>
<text x="74.06" y="477.00" font-family="Liberation Serif" font-weight="bold" stroke="#000" stroke-width="0.2" font-size="42.5" textLength="58.16" lengthAdjust="spacingAndGlyphs">0.4</text>
<text x="74.12" y="624.30" font-family="Liberation Serif" font-weight="bold" stroke="#000" stroke-width="0.2" font-size="42.5" textLength="55.88" lengthAdjust="spacingAndGlyphs">0.2</text>
<text x="74.47" y="775.50" font-family="Liberation Serif" font-weight="bold" stroke="#000" stroke-width="0.2" font-size="42.5" textLength="57.77" lengthAdjust="spacingAndGlyphs">0.0</text>
<text x="135.60" y="832.00" font-family="Liberation Serif" font-weight="bold" stroke="#000" stroke-width="0.2" font-size="42.5" textLength="23.80" lengthAdjust="spacingAndGlyphs">0</text>
<text x="349.90" y="832.00" font-family="Liberation Serif" font-weight="bold" stroke="#000" stroke-width="0.2" font-size="42.5" textLength="23.80" lengthAdjust="spacingAndGlyphs">2</text>
<text x="564.42" y="832.00" font-family="Liberation Serif" font-weight="bold" stroke="#000" stroke-width="0.2" font-size="42.5" textLength="23.80" lengthAdjust="spacingAndGlyphs">4</text>
<text x="777.38" y="832.00" font-family="Liberation Serif" font-weight="bold" stroke="#000" stroke-width="0.2" font-size="42.5" textLength="23.80" lengthAdjust="spacingAndGlyphs">6</text>
<text x="990.70" y="832.00" font-family="Liberation Serif" font-weight="bold" stroke="#000" stroke-width="0.2" font-size="42.5" textLength="23.80" lengthAdjust="spacingAndGlyphs">8</text>
<text x="1186.53" y="826.00" font-family="Liberation Serif" font-weight="bold" stroke="#000" stroke-width="0.2" font-size="42.5" textLength="45.89" lengthAdjust="spacingAndGlyphs">10</text>
<text x="598.06" y="888.40" font-family="Liberation Serif" font-weight="bold" stroke="#000" stroke-width="1.0" font-size="47" textLength="214.41" lengthAdjust="spacingAndGlyphs">Time (ms)</text>
<text transform="translate(43.00,853.92) rotate(-90)" font-family="Liberation Serif" font-weight="bold" stroke="#000" stroke-width="1" font-size="46" textLength="530.45" lengthAdjust="spacingAndGlyphs">Normalized intensity of the</text>
<text transform="translate(43.00,294.15) rotate(-90)" font-family="Liberation Serif" font-weight="bold" stroke="#000" stroke-width="1" font-size="46" textLength="31.09" lengthAdjust="spacingAndGlyphs">D</text>
<text transform="translate(43.00,216.36) rotate(-90)" font-family="Liberation Serif" font-weight="bold" stroke="#000" stroke-width="1" font-size="46" textLength="23.20" lengthAdjust="spacingAndGlyphs">F</text>
<text transform="translate(43.00,167.57) rotate(-90)" font-family="Liberation Serif" font-weight="bold" stroke="#000" stroke-width="1" font-size="46" textLength="164.22" lengthAdjust="spacingAndGlyphs">emission</text>
<text transform="translate(43.00,250.02) rotate(-90)" font-family="Liberation Serif" font-weight="bold" stroke="#000" stroke-width="1" font-size="46" textLength="17.93" lengthAdjust="spacingAndGlyphs">-</text>
<text transform="translate(60.00,265.31) rotate(-90)" font-family="Liberation Serif" font-weight="bold" stroke="#000" stroke-width="1" font-size="24" textLength="12.23" lengthAdjust="spacingAndGlyphs">4</text>
<text transform="translate(58.50,190.95) rotate(-90)" font-family="Liberation Serif" font-weight="bold" stroke="#000" stroke-width="1" font-size="24" textLength="11.83" lengthAdjust="spacingAndGlyphs">5</text>
<text transform="translate(18.00,311.14) rotate(-90)" font-family="Liberation Serif" font-weight="bold" stroke="#000" stroke-width="1" font-size="24" textLength="14.20" lengthAdjust="spacingAndGlyphs">5</text>
<text transform="translate(12.00,232.10) rotate(-90)" font-family="Liberation Serif" font-weight="bold" stroke="#000" stroke-width="1" font-size="24" textLength="9.58" lengthAdjust="spacingAndGlyphs">7</text>
<text x="649.27" y="59.20" font-family="Liberation Serif" font-weight="bold" stroke="#000" stroke-width="1.0" font-size="47" textLength="448.72" lengthAdjust="spacingAndGlyphs">(a) Atomic content of</text>
<text x="1107.26" y="59.20" font-family="Liberation Serif" font-weight="bold" stroke="#000" stroke-width="1.0" font-size="47" textLength="60.14" lengthAdjust="spacingAndGlyphs">Tb</text>
<text x="1168.62" y="31.00" font-family="Liberation Serif" font-weight="bold" stroke="#000" stroke-width="1.0" font-size="24" textLength="25.11" lengthAdjust="spacingAndGlyphs">3+</text>
<path d="M725,108.6H737 M797,108.6H810" stroke="#888" stroke-width="3.5"/>
<use href="#m_sq" x="768.3" y="108.1" fill="none" stroke="#555" stroke-width="2.6" transform="translate(768.3 108.1) scale(0.95) translate(-768.3 -108.1)"/>
<text x="823.52" y="122.30" font-family="Liberation Serif" font-weight="bold" stroke="#000" stroke-width="1.0" font-size="46" textLength="136.78" lengthAdjust="spacingAndGlyphs">1.98%</text>
<path d="M725,169.5H737 M797,169.5H810" stroke="#888" stroke-width="3.5"/>
<use href="#m_tri" x="768.3" y="169.0" fill="none" stroke="#555" stroke-width="2.6" transform="translate(768.3 169.0) scale(0.95) translate(-768.3 -169.0)"/>
<text x="825.67" y="183.20" font-family="Liberation Serif" font-weight="bold" stroke="#000" stroke-width="1.0" font-size="46" textLength="134.56" lengthAdjust="spacingAndGlyphs">3.09%</text>
<path d="M725,230.4H737 M797,230.4H810" stroke="#888" stroke-width="3.5"/>
<use href="#m_circ" x="768.3" y="229.9" fill="none" stroke="#555" stroke-width="2.6" transform="translate(768.3 229.9) scale(0.95) translate(-768.3 -229.9)"/>
<text x="825.54" y="244.10" font-family="Liberation Serif" font-weight="bold" stroke="#000" stroke-width="1.0" font-size="46" textLength="134.69" lengthAdjust="spacingAndGlyphs">5.02%</text>
<path d="M725,291.3H737 M797,291.3H810" stroke="#888" stroke-width="3.5"/>
<use href="#m_star" x="768.3" y="290.8" fill="none" stroke="#555" stroke-width="2.6" transform="translate(768.3 290.8) scale(0.95) translate(-768.3 -290.8)"/>
<text x="825.54" y="305.00" font-family="Liberation Serif" font-weight="bold" stroke="#000" stroke-width="1.0" font-size="46" textLength="134.69" lengthAdjust="spacingAndGlyphs">5.48%</text>
<path d="M725,352.2H737 M797,352.2H810" stroke="#888" stroke-width="3.5"/>
<use href="#m_plus" x="768.3" y="351.7" fill="none" stroke="#555" stroke-width="3" transform="translate(768.3 351.7) scale(0.95) translate(-768.3 -351.7)"/>
<text x="825.79" y="365.90" font-family="Liberation Serif" font-weight="bold" stroke="#000" stroke-width="1.0" font-size="46" textLength="134.43" lengthAdjust="spacingAndGlyphs">6.73%</text>
<rect x="144.3" y="908.6" width="1068.2" height="778.9" fill="none" stroke="#000" stroke-width="6"/>
<path d="M144.3,922.7H163.3 M144.3,1075.7H163.3 M144.3,1228.7H163.3 M144.3,1381.7H163.3 M144.3,1534.7H163.3 M176.0,1687.5V1673.5 M380.8,1687.5V1673.5 M585.6,1687.5V1673.5 M790.4,1687.5V1673.5 M995.2,1687.5V1673.5 M1200.0,1687.5V1673.5" stroke="#000" stroke-width="5" fill="none"/>
<text x="68.03" y="933.80" font-family="Liberation Serif" font-weight="bold" stroke="#000" stroke-width="0.2" font-size="42.5" textLength="58.94" lengthAdjust="spacingAndGlyphs">3.0</text>
<text x="70.57" y="1087.50" font-family="Liberation Serif" font-weight="bold" stroke="#000" stroke-width="0.2" font-size="42.5" textLength="56.73" lengthAdjust="spacingAndGlyphs">2.5</text>
<text x="70.54" y="1240.00" font-family="Liberation Serif" font-weight="bold" stroke="#000" stroke-width="0.2" font-size="42.5" textLength="54.70" lengthAdjust="spacingAndGlyphs">2.0</text>
<text x="70.13" y="1392.70" font-family="Liberation Serif" font-weight="bold" stroke="#000" stroke-width="0.2" font-size="42.5" textLength="57.28" lengthAdjust="spacingAndGlyphs">1.5</text>
<text x="71.58" y="1545.00" font-family="Liberation Serif" font-weight="bold" stroke="#000" stroke-width="0.2" font-size="42.5" textLength="56.51" lengthAdjust="spacingAndGlyphs">1.0</text>
<text x="70.18" y="1696.70" font-family="Liberation Serif" font-weight="bold" stroke="#000" stroke-width="0.2" font-size="42.5" textLength="57.45" lengthAdjust="spacingAndGlyphs">0.5</text>
<text x="162.90" y="1739.00" font-family="Liberation Serif" font-weight="bold" stroke="#000" stroke-width="0.2" font-size="42.5" textLength="23.80" lengthAdjust="spacingAndGlyphs">2</text>
<text x="369.04" y="1739.00" font-family="Liberation Serif" font-weight="bold" stroke="#000" stroke-width="0.2" font-size="42.5" textLength="23.80" lengthAdjust="spacingAndGlyphs">3</text>
<text x="574.22" y="1739.00" font-family="Liberation Serif" font-weight="bold" stroke="#000" stroke-width="0.2" font-size="42.5" textLength="23.80" lengthAdjust="spacingAndGlyphs">4</text>
<text x="779.04" y="1739.00" font-family="Liberation Serif" font-weight="bold" stroke="#000" stroke-width="0.2" font-size="42.5" textLength="23.80" lengthAdjust="spacingAndGlyphs">5</text>
<text x="985.48" y="1739.00" font-family="Liberation Serif" font-weight="bold" stroke="#000" stroke-width="0.2" font-size="42.5" textLength="23.80" lengthAdjust="spacingAndGlyphs">6</text>
<text x="1189.83" y="1739.00" font-family="Liberation Serif" font-weight="bold" stroke="#000" stroke-width="0.2" font-size="42.5" textLength="23.80" lengthAdjust="spacingAndGlyphs">7</text>
<g stroke="#000" fill="none">
<path d="M172.4,949.7V974.7 M172.4,996.7V1021.7 M158.9,949.7H185.9 M158.9,1021.7H185.9" stroke-width="5"/>
<rect x="160.65" y="975.2" width="23.5" height="21" stroke-width="5"/>
<path d="M400.2,1212.9V1239 M400.2,1261V1287.1 M386.7,1212.9H413.7 M386.7,1287.1H413.7" stroke-width="5"/>
<rect x="388.45" y="1239.5" width="23.5" height="21" stroke-width="5"/>
<path d="M796.7,1392.1V1418.1 M796.7,1440.1V1466.1 M783.2,1392.1H810.2 M783.2,1466.1H810.2" stroke-width="5"/>
<rect x="784.95" y="1418.6" width="23.5" height="21" stroke-width="5"/>
<path d="M890.8,1442.7V1468.7 M890.8,1490.7V1516.7 M877.3,1442.7H904.3 M877.3,1516.7H904.3" stroke-width="5"/>
<rect x="879.05" y="1469.2" width="23.5" height="21" stroke-width="5"/>
<path d="M1147.1,1556.3V1581.8 M1147.1,1603.8V1629.3 M1133.6,1556.3H1160.6 M1133.6,1629.3H1160.6" stroke-width="5"/>
<rect x="1135.35" y="1582.3" width="23.5" height="21" stroke-width="5"/>
</g>
<text x="647.69" y="973.00" font-family="Liberation Serif" font-weight="bold" stroke="#000" stroke-width="1.0" font-size="46" textLength="414.64" lengthAdjust="spacingAndGlyphs">(b) Average lifetime</text>
<text x="282.81" y="1788.70" font-family="Liberation Serif" font-weight="bold" stroke="#000" stroke-width="1.0" font-size="47" textLength="371.27" lengthAdjust="spacingAndGlyphs">Atomic content of</text>
<text x="670.95" y="1788.70" font-family="Liberation Serif" font-weight="bold" stroke="#000" stroke-width="1.0" font-size="47" textLength="52.80" lengthAdjust="spacingAndGlyphs">Tb</text>
<text x="726.26" y="1762.00" font-family="Liberation Serif" font-weight="bold" stroke="#000" stroke-width="1.0" font-size="24" textLength="29.58" lengthAdjust="spacingAndGlyphs">3+</text>
<text x="769.80" y="1788.70" font-family="Liberation Serif" font-weight="bold" stroke="#000" stroke-width="1.0" font-size="47" textLength="327.05" lengthAdjust="spacingAndGlyphs">in the films (%)</text>
<text transform="translate(35.00,1558.38) rotate(-90)" font-family="Liberation Serif" font-weight="bold" stroke="#000" stroke-width="1" font-size="48" textLength="511.18" lengthAdjust="spacingAndGlyphs">Calculated lifetime (ms)</text>
</g>
</svg></body></html>
